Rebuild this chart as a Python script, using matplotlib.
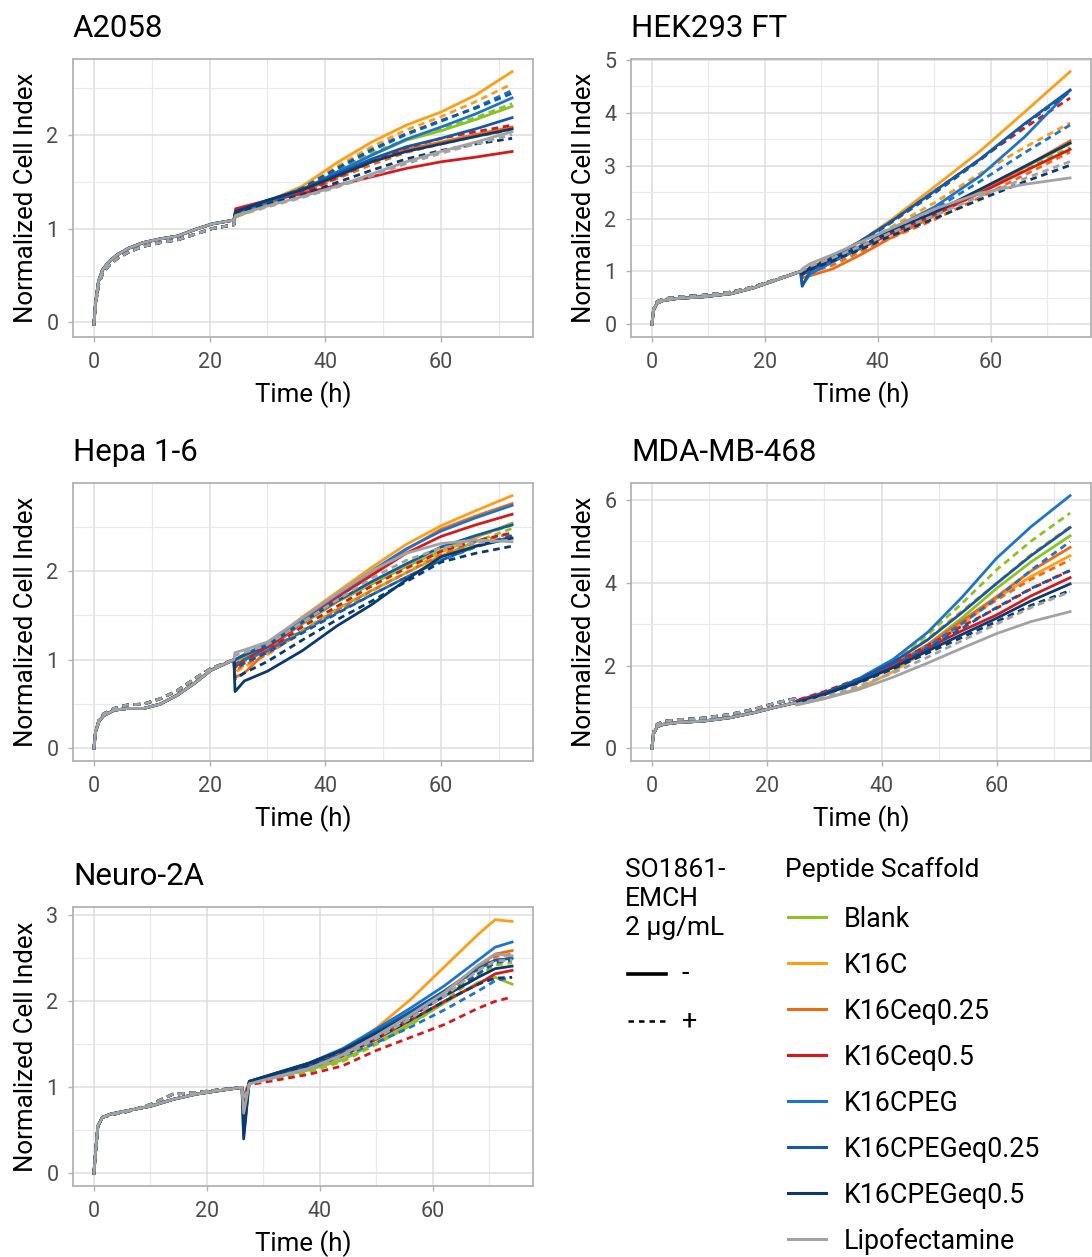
import matplotlib
matplotlib.use("Agg")
import matplotlib.pyplot as plt
from matplotlib.lines import Line2D

plt.rcParams['font.family'] = ['Roboto', 'DejaVu Sans']

# peptide scaffolds and their colours
scaffolds = ['Blank', 'K16C', 'K16Ceq0.25', 'K16Ceq0.5', 'K16CPEG',
             'K16CPEGeq0.25', 'K16CPEGeq0.5', 'Lipofectamine']
colors = ['#8DC21F', '#FF9E16', '#F06A14', '#D7191C', '#1B75D0',
          '#115BA6', '#0A3A70', '#A3A3A3']

# ---- A2058 ----
a2058_pre_t = [0, 0.3, 0.8, 1.5, 2.5, 4, 6, 8.5, 11.5, 14.5, 17.5, 20.5, 24.2]
a2058_pre_solid = [-0.02, 0.22, 0.44, 0.56, 0.64, 0.72, 0.79, 0.85, 0.89, 0.92, 0.99, 1.05, 1.09]
a2058_pre_dashed = [-0.02, 0.20, 0.40, 0.52, 0.60, 0.68, 0.75, 0.81, 0.85, 0.88, 0.94, 1.00, 1.04]
a2058_post_t = [24.5, 30, 36, 42, 48, 54, 60, 66, 72.3]
a2058_solid = [
    [1.12, 1.26, 1.40, 1.60, 1.78, 1.94, 2.04, 2.16, 2.30],
    [1.17, 1.29, 1.45, 1.70, 1.92, 2.10, 2.24, 2.42, 2.67],
    [1.16, 1.27, 1.39, 1.55, 1.71, 1.84, 1.92, 2.00, 2.08],
    [1.21, 1.30, 1.37, 1.46, 1.55, 1.64, 1.71, 1.76, 1.82],
    [1.17, 1.28, 1.41, 1.60, 1.78, 1.95, 2.08, 2.22, 2.39],
    [1.18, 1.30, 1.42, 1.58, 1.74, 1.87, 1.96, 2.06, 2.18],
    [1.18, 1.30, 1.41, 1.56, 1.71, 1.82, 1.90, 1.98, 2.06],
    [1.14, 1.24, 1.34, 1.45, 1.58, 1.71, 1.82, 1.92, 2.03],
]
a2058_dashed = [
    [1.14, 1.27, 1.42, 1.62, 1.80, 1.95, 2.06, 2.18, 2.33],
    [1.16, 1.28, 1.43, 1.66, 1.87, 2.05, 2.19, 2.35, 2.54],
    [1.15, 1.26, 1.38, 1.53, 1.68, 1.81, 1.90, 1.98, 2.05],
    [1.18, 1.28, 1.38, 1.54, 1.71, 1.86, 1.96, 2.03, 2.10],
    [1.16, 1.27, 1.42, 1.63, 1.83, 2.00, 2.14, 2.29, 2.47],
    [1.16, 1.28, 1.43, 1.64, 1.84, 2.01, 2.15, 2.28, 2.44],
    [1.16, 1.26, 1.36, 1.49, 1.62, 1.74, 1.83, 1.90, 1.96],
    [1.13, 1.23, 1.33, 1.44, 1.56, 1.69, 1.80, 1.90, 2.00],
]

# ---- HEK293 FT ----
hek_pre_t = [0, 0.3, 0.9, 2, 4.5, 9, 14, 18, 22, 26.3]
hek_pre_solid = [0, 0.27, 0.40, 0.45, 0.49, 0.52, 0.58, 0.69, 0.84, 1.00]
hek_pre_dashed = [0, 0.29, 0.43, 0.48, 0.52, 0.55, 0.61, 0.71, 0.85, 1.00]
hek_post_t = [26.6, 28, 32, 37, 42, 50, 58, 66, 74]
hek_solid = [
    [0.95, 1.05, 1.22, 1.45, 1.72, 2.10, 2.52, 2.97, 3.42],
    [0.96, 1.08, 1.28, 1.58, 1.95, 2.60, 3.27, 4.02, 4.78],
    [0.88, 0.92, 1.05, 1.32, 1.62, 2.05, 2.50, 2.98, 3.47],
    [0.94, 1.02, 1.20, 1.44, 1.70, 2.08, 2.48, 2.90, 3.31],
    [0.74, 0.95, 1.18, 1.45, 1.78, 2.22, 2.80, 3.55, 4.43],
    [0.72, 1.02, 1.27, 1.58, 1.92, 2.52, 3.12, 3.80, 4.43],
    [0.96, 1.07, 1.24, 1.48, 1.74, 2.12, 2.55, 2.99, 3.43],
    [1.05, 1.15, 1.32, 1.56, 1.80, 2.18, 2.48, 2.65, 2.77],
]
hek_dashed = [
    [0.97, 1.06, 1.24, 1.47, 1.73, 2.10, 2.50, 2.92, 3.35],
    [0.96, 1.06, 1.24, 1.50, 1.82, 2.30, 2.85, 3.35, 3.81],
    [0.92, 0.98, 1.12, 1.38, 1.62, 1.98, 2.40, 2.83, 3.26],
    [0.97, 1.08, 1.28, 1.58, 1.92, 2.52, 3.12, 3.72, 4.28],
    [0.90, 1.00, 1.20, 1.45, 1.75, 2.18, 2.70, 3.25, 3.77],
    [0.95, 1.06, 1.26, 1.55, 1.90, 2.48, 3.10, 3.78, 4.40],
    [0.95, 1.04, 1.20, 1.42, 1.66, 2.00, 2.36, 2.70, 3.01],
    [1.02, 1.10, 1.26, 1.48, 1.72, 2.06, 2.42, 2.76, 3.08],
]

# ---- Hepa 1-6 ----
hepa_pre_t = [0, 0.3, 0.9, 1.7, 3.5, 5.8, 8.6, 11.5, 14.4, 17.3, 20.2, 24.2]
hepa_pre_solid = [0, 0.19, 0.31, 0.37, 0.43, 0.45, 0.45, 0.50, 0.60, 0.73, 0.88, 1.00]
hepa_pre_dashed = [0, 0.20, 0.32, 0.39, 0.45, 0.49, 0.50, 0.56, 0.65, 0.78, 0.90, 1.00]
hepa_post_t = [24.4, 26, 30, 36, 42, 48, 54, 60, 66, 72.3]
hepa_solid = [
    [0.95, 1.03, 1.15, 1.40, 1.65, 1.85, 2.05, 2.23, 2.38, 2.54],
    [0.98, 1.06, 1.18, 1.48, 1.76, 2.04, 2.30, 2.51, 2.68, 2.85],
    [0.80, 0.85, 1.10, 1.42, 1.70, 1.96, 2.24, 2.47, 2.62, 2.76],
    [0.92, 1.00, 1.14, 1.42, 1.70, 1.95, 2.20, 2.39, 2.52, 2.64],
    [1.00, 1.06, 1.18, 1.46, 1.73, 2.00, 2.25, 2.45, 2.60, 2.74],
    [1.00, 1.05, 1.16, 1.42, 1.66, 1.88, 2.08, 2.27, 2.40, 2.52],
    [0.64, 0.76, 0.87, 1.10, 1.38, 1.62, 1.90, 2.16, 2.28, 2.37],
    [1.08, 1.11, 1.20, 1.47, 1.74, 2.00, 2.20, 2.31, 2.35, 2.33],
]
hepa_dashed = [
    [0.92, 0.98, 1.10, 1.33, 1.57, 1.78, 1.98, 2.17, 2.33, 2.48],
    [0.86, 0.92, 1.06, 1.32, 1.55, 1.77, 1.98, 2.21, 2.38, 2.52],
    [0.88, 0.94, 1.06, 1.32, 1.56, 1.78, 1.98, 2.18, 2.32, 2.43],
    [0.90, 0.97, 1.10, 1.37, 1.60, 1.83, 2.03, 2.22, 2.34, 2.43],
    [0.95, 1.00, 1.10, 1.32, 1.53, 1.73, 1.93, 2.12, 2.27, 2.39],
    [0.90, 0.96, 1.08, 1.30, 1.52, 1.73, 1.93, 2.12, 2.28, 2.40],
    [0.78, 0.85, 0.98, 1.22, 1.45, 1.66, 1.88, 2.10, 2.20, 2.28],
    [1.05, 1.08, 1.17, 1.42, 1.67, 1.92, 2.12, 2.26, 2.32, 2.35],
]

# ---- MDA-MB-468 ----
mda_pre_t = [0, 0.3, 0.9, 2, 4.3, 9, 13.6, 17.7, 21.7, 24.9]
mda_pre_solid = [0, 0.36, 0.52, 0.58, 0.62, 0.66, 0.74, 0.86, 1.00, 1.10]
mda_pre_dashed = [0, 0.40, 0.58, 0.65, 0.69, 0.73, 0.82, 0.94, 1.10, 1.20]
mda_post_t = [25.2, 30, 36, 42, 48, 54, 60, 66, 72.8]
mda_solid = [
    [1.10, 1.30, 1.62, 2.02, 2.50, 3.15, 3.86, 4.50, 5.13],
    [1.05, 1.20, 1.45, 1.85, 2.38, 3.00, 3.62, 4.15, 4.65],
    [1.10, 1.30, 1.60, 2.00, 2.50, 3.08, 3.66, 4.28, 4.85],
    [1.15, 1.35, 1.65, 2.02, 2.42, 2.84, 3.22, 3.68, 4.12],
    [1.10, 1.32, 1.68, 2.15, 2.80, 3.65, 4.59, 5.35, 6.10],
    [1.12, 1.33, 1.66, 2.08, 2.62, 3.28, 3.98, 4.65, 5.33],
    [1.10, 1.30, 1.60, 1.95, 2.35, 2.75, 3.14, 3.56, 3.97],
    [1.05, 1.20, 1.42, 1.72, 2.06, 2.42, 2.77, 3.06, 3.30],
]
mda_dashed = [
    [1.14, 1.35, 1.68, 2.12, 2.75, 3.50, 4.31, 5.00, 5.68],
    [1.12, 1.33, 1.65, 2.08, 2.65, 3.32, 3.98, 4.68, 5.35],
    [1.12, 1.32, 1.62, 2.00, 2.48, 3.04, 3.58, 4.08, 4.55],
    [1.16, 1.37, 1.68, 2.05, 2.48, 2.95, 3.38, 3.85, 4.29],
    [1.10, 1.30, 1.60, 1.98, 2.45, 3.02, 3.62, 4.30, 4.99],
    [1.10, 1.30, 1.60, 1.96, 2.40, 2.90, 3.40, 3.86, 4.30],
    [1.10, 1.30, 1.58, 1.92, 2.30, 2.68, 3.06, 3.45, 3.81],
    [1.07, 1.24, 1.50, 1.82, 2.20, 2.60, 3.00, 3.40, 3.78],
]

# ---- Neuro-2A ----
neuro_pre_t = [0, 0.3, 0.7, 1.5, 3, 6, 10, 14, 18, 22, 26.2]
neuro_pre_solid = [0, 0.25, 0.55, 0.65, 0.69, 0.73, 0.78, 0.86, 0.92, 0.96, 1.00]
neuro_pre_dashed = [0, 0.25, 0.55, 0.65, 0.68, 0.72, 0.80, 0.92, 0.94, 0.97, 1.00]
neuro_post_t = [26.5, 27.5, 32, 38, 44, 50, 56, 62, 68, 71, 74]
neuro_solid = [
    [0.90, 1.05, 1.12, 1.20, 1.32, 1.52, 1.74, 1.98, 2.22, 2.28, 2.20],
    [0.85, 1.06, 1.14, 1.26, 1.42, 1.69, 2.02, 2.40, 2.78, 2.95, 2.93],
    [0.85, 1.06, 1.14, 1.25, 1.40, 1.62, 1.86, 2.12, 2.40, 2.55, 2.59],
    [0.85, 1.05, 1.13, 1.23, 1.37, 1.56, 1.78, 2.00, 2.20, 2.32, 2.36],
    [0.60, 1.07, 1.16, 1.28, 1.45, 1.68, 1.92, 2.18, 2.48, 2.63, 2.69],
    [0.45, 1.07, 1.16, 1.28, 1.44, 1.65, 1.88, 2.12, 2.38, 2.48, 2.50],
    [0.40, 1.07, 1.16, 1.28, 1.43, 1.63, 1.84, 2.06, 2.28, 2.38, 2.41],
    [0.70, 1.04, 1.12, 1.22, 1.38, 1.60, 1.84, 2.10, 2.42, 2.55, 2.53],
]
neuro_dashed = [
    [0.90, 1.04, 1.10, 1.18, 1.30, 1.50, 1.72, 2.00, 2.30, 2.42, 2.45],
    [0.90, 1.05, 1.12, 1.22, 1.36, 1.58, 1.82, 2.08, 2.36, 2.48, 2.52],
    [0.90, 1.05, 1.12, 1.22, 1.36, 1.58, 1.82, 2.10, 2.40, 2.52, 2.55],
    [0.90, 1.03, 1.08, 1.15, 1.25, 1.43, 1.58, 1.73, 1.92, 2.00, 2.05],
    [0.80, 1.05, 1.12, 1.22, 1.36, 1.52, 1.70, 1.90, 2.12, 2.24, 2.28],
    [0.70, 1.06, 1.14, 1.26, 1.40, 1.60, 1.82, 2.06, 2.32, 2.45, 2.48],
    [0.80, 1.06, 1.14, 1.25, 1.38, 1.57, 1.78, 2.00, 2.20, 2.27, 2.28],
    [0.85, 1.04, 1.11, 1.21, 1.36, 1.57, 1.80, 2.06, 2.36, 2.47, 2.48],
]

W, H = 1092, 1257
fig = plt.figure(figsize=(W / 100, H / 100), dpi=100)
fig.patch.set_facecolor('white')

DASH = (0, (2.4, 1.7))
LW = 2.0


def box(l, t, r, b):
    return [l / W, 1 - b / H, (r - l) / W, (b - t) / H]


panels = [
    ('A2058', box(73, 59, 533, 337), a2058_pre_t, a2058_pre_solid, a2058_pre_dashed,
     a2058_post_t, a2058_solid, a2058_dashed, [0, 1, 2], [0.5, 1.5, 2.5]),
    ('HEK293 FT', box(631, 59, 1091, 337), hek_pre_t, hek_pre_solid, hek_pre_dashed,
     hek_post_t, hek_solid, hek_dashed, [0, 1, 2, 3, 4, 5], [0.5, 1.5, 2.5, 3.5, 4.5]),
    ('Hepa 1-6', box(73, 483, 533, 761), hepa_pre_t, hepa_pre_solid, hepa_pre_dashed,
     hepa_post_t, hepa_solid, hepa_dashed, [0, 1, 2], [0.5, 1.5, 2.5]),
    ('MDA-MB-468', box(631, 483, 1091, 761), mda_pre_t, mda_pre_solid, mda_pre_dashed,
     mda_post_t, mda_solid, mda_dashed, [0, 2, 4, 6], [1, 3, 5]),
    ('Neuro-2A', box(73, 907, 533, 1186), neuro_pre_t, neuro_pre_solid, neuro_pre_dashed,
     neuro_post_t, neuro_solid, neuro_dashed, [0, 1, 2, 3], [0.5, 1.5, 2.5]),
]

for (title, rect, pre_t, pre_s, pre_d, post_t, solid, dashed, yt, ymt) in panels:
    ax = fig.add_axes(rect)
    t = pre_t + post_t
    for i, col in enumerate(colors):
        ax.plot(t, pre_s + solid[i], color=col, lw=LW, solid_joinstyle='round')
        ax.plot(t, pre_d + dashed[i], color=col, lw=LW, linestyle=DASH)
    ax.margins(x=0.05, y=0.05)

    ax.set_xticks([0, 20, 40, 60])
    ax.set_xticks([10, 30, 50, 70], minor=True)
    ax.set_yticks(yt)
    ax.set_yticks(ymt, minor=True)
    ax.set_axisbelow(True)
    ax.grid(which='major', color='#DEDEDE', lw=1.1)
    ax.grid(which='minor', color='#E9E9E9', lw=0.8)
    for s in ax.spines.values():
        s.set_color('#B3B3B3')
        s.set_linewidth(1.3)
    ax.tick_params(which='major', length=3.5, width=1.0, color='#B3B3B3',
                   labelsize=15.5, labelcolor='#4D4D4D', pad=7)
    ax.tick_params(which='minor', length=0)

    ax.set_title(title, loc='left', fontsize=22.5, pad=16, color='black')
    ax.set_xlabel('Time (h)', fontsize=18.6, color='black')
    ax.set_ylabel('Normalized Cell Index', fontsize=18.6, color='black')
    ax.xaxis.set_label_coords(0.5, -0.158)
    ax.yaxis.set_label_coords(-0.077, 0.5)


def fx(x):
    return x / W


def fy(y):
    return 1 - y / H


# legend for the SO1861-EMCH linetype
for k, line in enumerate(['SO1861-', 'EMCH', '2 μg/mL']):
    fig.text(fx(625), fy(877 + 29 * k), line, fontsize=19, va='baseline', ha='left')
fig.add_artist(Line2D([fx(628), fx(666)], [fy(974), fy(974)], color='black', lw=2.6))
fig.add_artist(Line2D([fx(628), fx(666)], [fy(1021), fy(1021)], color='black', lw=1.8,
                      linestyle=(0, (2.2, 2.0))))
fig.text(fx(682), fy(974), '-', fontsize=19.3, va='center', ha='left')
fig.text(fx(682), fy(1021), '+', fontsize=19.3, va='center', ha='left')

# legend for the peptide scaffold colours
fig.text(fx(785), fy(877), 'Peptide Scaffold', fontsize=19, va='baseline', ha='left')
for k, (name, col) in enumerate(zip(scaffolds, colors)):
    yk = 916.7 + 46.1 * k
    fig.add_artist(Line2D([fx(788), fx(826)], [fy(yk), fy(yk)], color=col, lw=2.2))
    fig.text(fx(844), fy(yk + 10), name, fontsize=19.3, va='baseline', ha='left')

fig.savefig('out.png', dpi=100)
